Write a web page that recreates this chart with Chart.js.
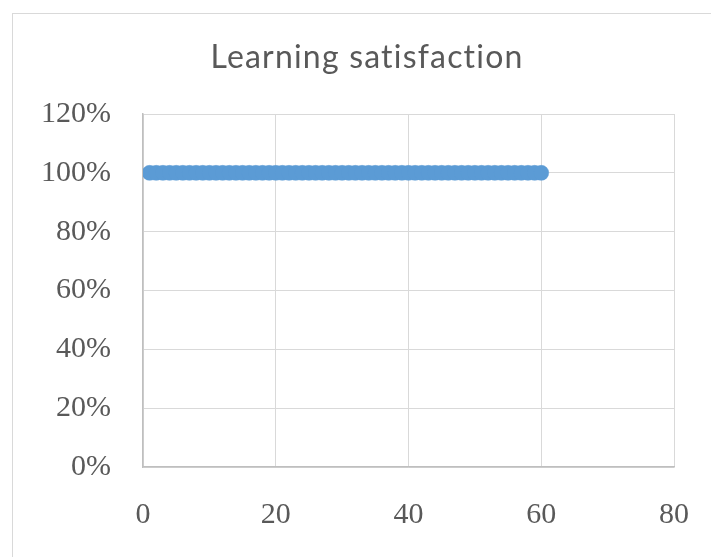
<!DOCTYPE html>
<html>
<head>
<meta charset="utf-8">
<script src="https://cdn.jsdelivr.net/npm/chart.js@4/dist/chart.umd.min.js"></script>
<style>
  html, body { margin: 0; padding: 0; background: #fff; }
  #wrap { position: relative; width: 711px; height: 557px; overflow: hidden; }
</style>
</head>
<body>
<div id="wrap"><canvas id="chart" width="711" height="557"></canvas></div>
<script>
// Respondent number vs. satisfaction share (1 = 100%)
const respondents = [
  1, 2, 3, 4, 5, 6, 7, 8, 9, 10,
  11, 12, 13, 14, 15, 16, 17, 18, 19, 20,
  21, 22, 23, 24, 25, 26, 27, 28, 29, 30,
  31, 32, 33, 34, 35, 36, 37, 38, 39, 40,
  41, 42, 43, 44, 45, 46, 47, 48, 49, 50,
  51, 52, 53, 54, 55, 56, 57, 58, 59, 60,
];
const satisfaction = [
  1, 1, 1, 1, 1, 1, 1, 1, 1, 1,
  1, 1, 1, 1, 1, 1, 1, 1, 1, 1,
  1, 1, 1, 1, 1, 1, 1, 1, 1, 1,
  1, 1, 1, 1, 1, 1, 1, 1, 1, 1,
  1, 1, 1, 1, 1, 1, 1, 1, 1, 1,
  1, 1, 1, 1, 1, 1, 1, 1, 1, 1,
];
const TITLE = "Learning satisfaction";
const X_TICKS = { min: 0, max: 80, step: 20 };
const Y_TICKS = { min: 0, max: 1.2, step: 0.2 };

const TEXT = "#595959";
const GRID = "#d9d9d9";
const AXIS = "#bfbfbf";
const BLUE = "#5b9bd5";
const TICK_FONT = { family: "'Liberation Serif', 'Times New Roman', serif", size: 30 };

// Outer chart frame (cropped on the right and bottom like the source) and the title.
const frame = {
  id: "frame",
  beforeDraw(chart) {
    const { ctx } = chart;
    ctx.save();
    ctx.strokeStyle = GRID;
    ctx.lineWidth = 1;
    ctx.strokeRect(12.5, 13.5, 760, 620);
    ctx.fillStyle = TEXT;
    ctx.font = "400 32px Lato, sans-serif";
    ctx.letterSpacing = "1.2px";
    ctx.textAlign = "center";
    ctx.textBaseline = "alphabetic";
    ctx.fillText(TITLE, 367, 68);
    ctx.restore();
  },
};

const points = respondents.map((x, i) => ({ x, y: satisfaction[i] }));

new Chart(document.getElementById("chart"), {
  type: "scatter",
  data: {
    datasets: [{
      data: points,
      pointRadius: 7.5,
      pointHoverRadius: 7.5,
      pointBackgroundColor: BLUE,
      pointBorderColor: BLUE,
      pointBorderWidth: 0.5,
    }],
  },
  options: {
    responsive: false,
    animation: false,
    layout: { padding: { left: 0, right: 37, top: 114, bottom: 0 } },
    plugins: { legend: { display: false }, tooltip: { enabled: false }, title: { display: false } },
    scales: {
      x: {
        min: X_TICKS.min,
        max: X_TICKS.max,
        afterFit(s) { s.height = 90; s.paddingLeft = 0; s.paddingRight = 0; },
        grid: { color: GRID, drawTicks: false },
        border: { color: AXIS, width: 1.5 },
        ticks: { stepSize: X_TICKS.step, color: TEXT, font: TICK_FONT, padding: 30 },
      },
      y: {
        min: Y_TICKS.min,
        max: Y_TICKS.max,
        afterFit(s) { s.width = 143; s.paddingTop = 0; s.paddingBottom = 0; },
        grid: { color: GRID, drawTicks: false },
        border: { color: AXIS, width: 1.5 },
        ticks: {
          stepSize: Y_TICKS.step,
          color: TEXT,
          font: TICK_FONT,
          padding: 32,
          callback: (v) => Math.round(v * 100) + "%",
        },
      },
    },
  },
  plugins: [frame],
});
</script>
</body>
</html>
